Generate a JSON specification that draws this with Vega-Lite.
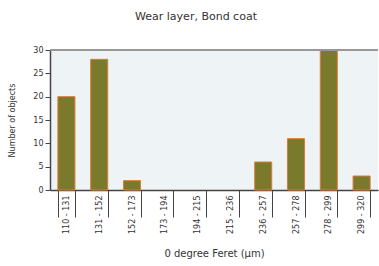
{
  "$schema": "https://vega.github.io/schema/vega-lite/v6.json",
  "width": 328,
  "height": 140,
  "autosize": {"type": "none"},
  "padding": {"left": 50, "top": 50, "right": 1, "bottom": 76},
  "background": "white",
  "title": {"text": "Wear layer, Bond coat", "font": "DejaVu Sans", "fontSize": 11, "fontWeight": "normal", "color": "#333333", "offset": 24, "anchor": "middle", "dx": -18},
  "config": {
    "view": {"fill": "#eef3f5", "stroke": null},
    "axis": {"labelFont": "DejaVu Sans", "titleFont": "DejaVu Sans", "labelColor": "#333333", "titleColor": "#333333", "labelFontSize": 8, "titleFontSize": 9, "titleFontWeight": "normal", "domainColor": "#444444", "tickColor": "#444444"}
  },
  "data": {"values": [
    {"bin": "110 - 131", "count": 20},
    {"bin": "131 - 152", "count": 28},
    {"bin": "152 - 173", "count": 2},
    {"bin": "173 - 194", "count": 0},
    {"bin": "194 - 215", "count": 0},
    {"bin": "215 - 236", "count": 0},
    {"bin": "236 - 257", "count": 6},
    {"bin": "257 - 278", "count": 11},
    {"bin": "278 - 299", "count": 30},
    {"bin": "299 - 320", "count": 3}
  ]},
  "layer": [
    {
      "mark": {"type": "bar", "fill": "#7a7a2c", "stroke": "#e07a3a", "strokeWidth": 1},
      "encoding": {
        "x": {"field": "bin", "type": "ordinal", "sort": null,
          "scale": {"paddingInner": 0.48, "paddingOuter": 0.24},
          "axis": {"title": "0 degree Feret (µm)", "titleFontSize": 10, "labelFontSize": 8, "labelAngle": -90, "labelAlign": "right", "labelBaseline": "middle", "tickBand": "extent", "tickSize": 27, "labelPadding": -22, "titlePadding": 15, "domainWidth": 1.5}},
        "y": {"field": "count", "type": "quantitative",
          "scale": {"domain": [0, 30], "nice": false},
          "axis": {"title": "Number of objects", "values": [0, 5, 10, 15, 20, 25, 30], "tickCount": 7, "labelOverlap": false, "grid": false, "tickSize": 5, "titlePadding": 16, "titleFontSize": 8, "domainWidth": 1.5}},
        "strokeOpacity": {"condition": {"test": "datum.count == 0", "value": 0}, "value": 1}
      }
    },
    {
      "mark": {"type": "rule", "color": "#999999", "strokeWidth": 1.5},
      "encoding": {"y": {"datum": 30, "type": "quantitative"}}
    }
  ]
}
